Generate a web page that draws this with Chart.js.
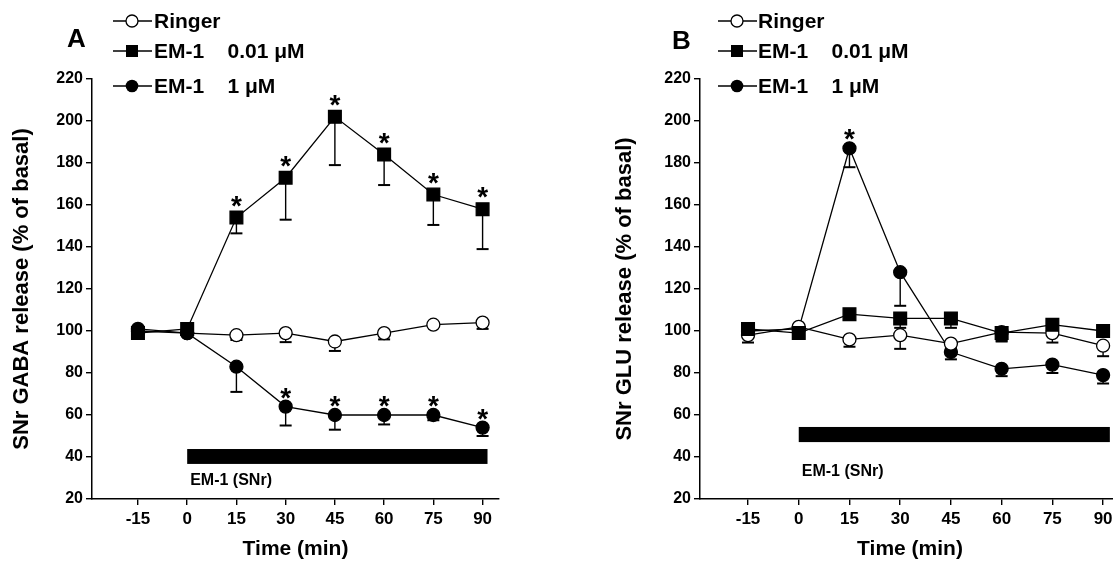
<!DOCTYPE html>
<html><head><meta charset="utf-8">
<script src="https://cdn.jsdelivr.net/npm/chart.js@4"></script>
<style>
html,body{margin:0;padding:0;background:#fff;overflow:hidden;}
#wrap{position:relative;width:1113px;height:563px;overflow:hidden;background:#fff;}
canvas{position:absolute;top:0;}
.lg{position:absolute;font:bold 21px "Liberation Sans",Arial,sans-serif;white-space:pre;color:#000;line-height:20px;}
.letter{position:absolute;font:bold 26px "Liberation Sans",Arial,sans-serif;line-height:26px;color:#000;}
svg{position:absolute;overflow:visible;}
</style></head>
<body><div id="wrap">
<canvas id="cA" width="556" height="563" style="left:0"></canvas>
<canvas id="cB" width="600" height="563" style="left:556px"></canvas>
<div class="letter" style="left:67px;top:25px">A</div>
<div class="letter" style="left:672px;top:27px">B</div>
</div>
<script>
// ---- data ----
const times = [-15, 0, 15, 30, 45, 60, 75, 90];
const xTicks = [-15, 0, 15, 30, 45, 60, 75, 90];
const seriesNames = ['Ringer', 'EM-1    0.01 \u03bcM', 'EM-1    1 \u03bcM'];

// Panel A: SNr GABA release (% of basal)
const gabaRinger    = [100, 99, 98, 99, 95, 99, 103, 104];
const gabaRingerLow = [null, null, 95.7, 94.7, 90.5, 96, 102, 101];
const gabaEM001     = [99, 101, 154, 173, 202, 184, 165, 158];
const gabaEM001Low  = [null, null, 146.5, 153, 179, 169.5, 150.5, 139];
const gabaEM001Sig  = [false, false, true, true, true, true, true, true];
const gabaEM1       = [101, 99, 83, 64, 60, 60, 60, 54];
const gabaEM1Low    = [null, null, 71, 55, 53, 55.5, 57.5, 50];
const gabaEM1Sig    = [false, false, false, true, true, true, true, true];

// Panel B: SNr GLU release (% of basal)
const gluRinger     = [98, 102, 96, 98, 94, 99.5, 99, 93];
const gluRingerLow  = [94.5, null, 92.5, 91.5, 92, 95.5, 94.5, 88];
const gluEM001      = [101, 99, 108, 106, 106, 99, 103, 100];
const gluEM001Low   = [null, null, null, 101.5, 101.5, 95, null, null];
const gluEM001Sig   = [false, false, false, false, false, false, false, false];
const gluEM1        = [100, 101, 187, 128, 90, 82, 84, 79];
const gluEM1Low     = [null, null, 178, 112, 86.5, 78.5, 80, 75];
const gluEM1Sig     = [false, false, true, false, false, false, false, false];

// drug application period (min) and bar level (% axis units)
const periodA = {x0: 0, x1: 91.5, yLow: 36.7, yHigh: 43.8, labelY: 28.6};
const periodB = {x0: 0, x1: 92, yLow: 47.1, yHigh: 54.3, labelY: 32.9};
const periodLabel = 'EM-1 (SNr)';

// ---- rendering ----
const FONT = '"Liberation Sans", Arial, sans-serif';
const toPts = arr => times.map((t, i) => ({x: t, y: arr[i]}));

const annot = {
  id: 'annot',
  beforeDatasetsDraw(chart, args, o) {
    const {ctx, scales: {x, y}} = chart;
    const p = o.period;
    ctx.save();
    ctx.fillStyle = '#000';
    const px0 = x.getPixelForValue(p.x0), px1 = x.getPixelForValue(p.x1);
    const pyT = y.getPixelForValue(p.yHigh), pyB = y.getPixelForValue(p.yLow);
    ctx.fillRect(px0, pyT, px1 - px0, pyB - pyT);
    ctx.font = 'bold 16px ' + FONT;
    ctx.textAlign = 'left'; ctx.textBaseline = 'middle';
    ctx.fillText(periodLabel, px0 + 3, y.getPixelForValue(p.labelY));
    // error bars (downward SEM)
    ctx.strokeStyle = '#000';
    chart.data.datasets.forEach(ds => {
      if (!ds.errLow) return;
      ds.data.forEach((pt, j) => {
        const lo = ds.errLow[j];
        if (lo == null) return;
        const px = x.getPixelForValue(pt.x);
        const py = y.getPixelForValue(pt.y), pl = y.getPixelForValue(lo);
        ctx.lineWidth = 1.4;
        ctx.beginPath(); ctx.moveTo(px, py); ctx.lineTo(px, pl); ctx.stroke();
        ctx.lineWidth = 2;
        ctx.beginPath(); ctx.moveTo(px - 6, pl); ctx.lineTo(px + 6, pl); ctx.stroke();
      });
    });
    ctx.restore();
  },
  afterDatasetsDraw(chart) {
    const {ctx, scales: {x, y}} = chart;
    ctx.save();
    ctx.fillStyle = '#000';
    ctx.font = 'bold 28px ' + FONT;
    ctx.textAlign = 'center'; ctx.textBaseline = 'alphabetic';
    chart.data.datasets.forEach(ds => {
      if (!ds.sig) return;
      ds.data.forEach((pt, j) => {
        if (!ds.sig[j]) return;
        const px = x.getPixelForValue(pt.x), py = y.getPixelForValue(pt.y);
        ctx.fillText('*', px, py - ds.starOff + 16);
      });
    });
    ctx.restore();
  }
};

function makeDatasets(r, rLow, s, sLow, sSig, c, cLow, cSig, orders) {
  const base = {showLine: true, borderColor: '#000', borderWidth: 1.3, pointBorderColor: '#000', pointBorderWidth: 1.3};
  return [
    Object.assign({}, base, {label: seriesNames[0], data: toPts(r), errLow: rLow, pointStyle: 'circle', pointRadius: 6.5, pointBackgroundColor: '#fff', order: orders[0]}),
    Object.assign({}, base, {label: seriesNames[1], data: toPts(s), errLow: sLow, sig: sSig, starOff: 19, pointStyle: 'rect', pointRadius: 9, pointBackgroundColor: '#000', order: orders[1]}),
    Object.assign({}, base, {label: seriesNames[2], data: toPts(c), errLow: cLow, sig: cSig, starOff: 16, pointStyle: 'circle', pointRadius: 6.5, pointBackgroundColor: '#000', order: orders[2]})
  ];
}

function makeChart(id, datasets, yTitle, yWidth, titlePad, padRight, xMin, xMax, period) {
  return new Chart(document.getElementById(id), {
    type: 'scatter',
    data: {datasets},
    plugins: [annot],
    options: {
      responsive: false, animation: false, events: [],
      layout: {padding: {top: 79, right: padRight, left: 0, bottom: 0}},
      plugins: {legend: {display: false}, tooltip: {enabled: false}, annot: {period}},
      scales: {
        x: {
          type: 'linear', min: xMin, max: xMax,
          afterBuildTicks: s => { s.ticks = xTicks.map(v => ({value: v})); },
          afterFit: s => { s.height = 64; },
          grid: {drawOnChartArea: false, drawTicks: true, tickLength: 6, color: '#000', lineWidth: 1.4},
          border: {display: true, color: '#000', width: 1.5},
          ticks: {color: '#000', font: {family: FONT, size: 17, weight: 'bold'}, padding: 4, maxRotation: 0, autoSkip: false},
          title: {display: true, text: 'Time (min)', color: '#000', font: {family: FONT, size: 21, weight: 'bold'}, padding: {top: 0, bottom: 1}}
        },
        y: {
          min: 20, max: 220,
          ticks: {stepSize: 20, color: '#000', font: {family: FONT, size: 16, weight: 'bold'}, padding: 3},
          afterFit: s => { s.width = yWidth; },
          grid: {drawOnChartArea: false, drawTicks: true, tickLength: 6, color: '#000', lineWidth: 1.4},
          border: {display: true, color: '#000', width: 1.5},
          title: {display: true, text: yTitle, color: '#000', font: {family: FONT, size: 22, weight: 'bold'}, padding: {top: titlePad, bottom: 0}}
        }
      }
    }
  });
}

makeChart('cA', makeDatasets(gabaRinger, gabaRingerLow, gabaEM001, gabaEM001Low, gabaEM001Sig, gabaEM1, gabaEM1Low, gabaEM1Sig, [3, 2, 1]),
  'SNr GABA release (% of basal)', 92, 9, 57, -29, 95, periodA);
makeChart('cB', makeDatasets(gluRinger, gluRingerLow, gluEM001, gluEM001Low, gluEM001Sig, gluEM1, gluEM1Low, gluEM1Sig, [2, 1, 3]),
  'SNr GLU release (% of basal)', 144, 56, 36, -29.2, 95, periodB);

// ---- legends (HTML) ----
const wrap = document.getElementById('wrap');
const rowCenters = [21, 51, 86];
const markerSvg = [
  '<circle cx="19" cy="10" r="6" fill="#fff" stroke="#000" stroke-width="1.3"/>',
  '<rect x="13" y="4" width="12" height="12" fill="#000"/>',
  '<circle cx="19" cy="10" r="6.3" fill="#000"/>'
];
function legend(lineLeft, textLeft) {
  seriesNames.forEach((name, i) => {
    const c = rowCenters[i];
    const s = document.createElementNS('http://www.w3.org/2000/svg', 'svg');
    s.setAttribute('width', '40'); s.setAttribute('height', '20');
    s.style.left = lineLeft + 'px'; s.style.top = (c - 10) + 'px';
    s.innerHTML = '<line x1="0" y1="10" x2="39" y2="10" stroke="#000" stroke-width="1.3"/>' + markerSvg[i];
    wrap.appendChild(s);
    const d = document.createElement('div');
    d.className = 'lg'; d.textContent = name;
    d.style.left = textLeft + 'px'; d.style.top = (c - 10) + 'px';
    wrap.appendChild(d);
  });
}
legend(113, 154);
legend(718, 758);
</script>
</body></html>
